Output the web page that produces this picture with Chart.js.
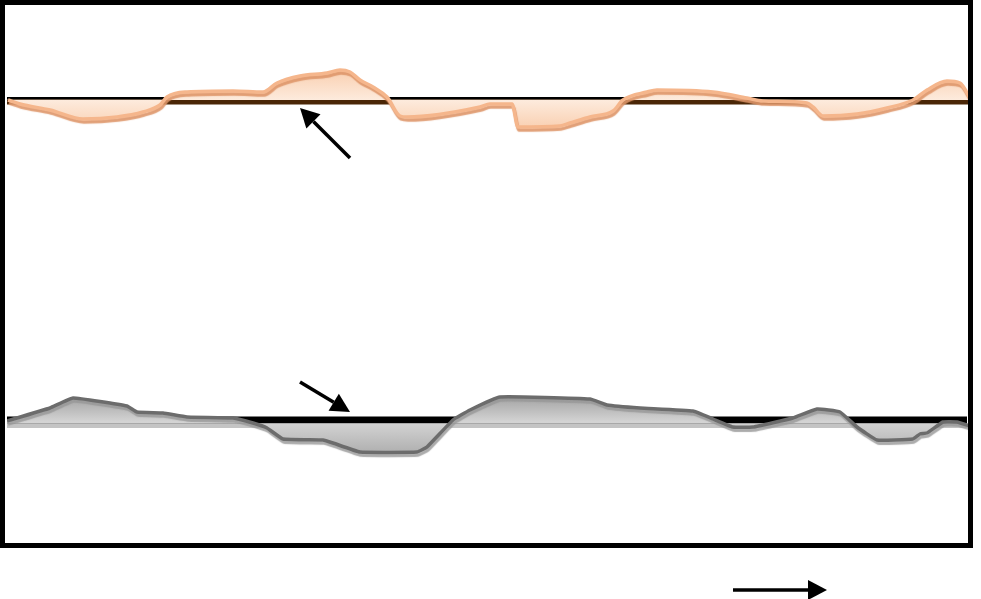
<!DOCTYPE html>
<html>
<head>
<meta charset="utf-8">
<script src="https://cdn.jsdelivr.net/npm/chart.js@4/dist/chart.umd.min.js"></script>
<style>
html,body{margin:0;padding:0;background:#fff;}
#wrap{width:981px;height:599px;position:relative;}
</style>
</head>
<body>
<div id="wrap"><canvas id="c" width="981" height="599"></canvas></div>
<script>
// Position along the record (arbitrary units) and deviation from the baseline
const orangePos = [1,13,43,76,110,136,153,160,180,226,256,270,293,320,333,343,353,366,380,393,400,473,483,505,511,553,563,583,606,616,640,650,706,740,756,800,806,816,850,880,906,920,940,953,963];
const orangeVal = [0,-4,-10,-19,-17,-12,-5,3,8,9,8,17,24,27,30,28,20,13,3,-16,-17,-7,-4,-4,-27,-26,-23,-17,-11,0,8,10,8,2,-1,-3,-7,-16,-14,-8,0,10,19,17,2];

const grayPos = [0,43,66,120,130,156,180,226,246,260,276,316,326,353,410,420,446,463,493,583,600,633,686,706,726,746,786,810,833,850,870,906,913,920,936,950,963];
const grayVal = [0,13,23,15,9,8,4,3,-2,-7,-18,-19,-22,-31,-31,-26,1,11,24,22,16,13,10,2,-6,-6,3,12,9,-6,-19,-18,-13,-12,-1,-1,-5];

// Annotation arrows: [x1, y1, x2, y2] in data units (tail -> head)
const arrowOrange = [343, -58, 293, -8];
const arrowGray = [293, 39, 343, 9];
const arrowTime = [726, -169, 820, -169];

const orangeData = orangePos.map((x,i)=>({x:x,y:orangeVal[i]}));
const grayData = grayPos.map((x,i)=>({x:x,y:grayVal[i]}));

function drawArrow(ctx, x1, y1, x2, y2){
  const ang = Math.atan2(y2-y1, x2-x1);
  const hl = 19, hw = 10;
  const bx = x2 - hl*Math.cos(ang), by = y2 - hl*Math.sin(ang);
  ctx.save();
  ctx.strokeStyle = '#000';
  ctx.fillStyle = '#000';
  ctx.lineWidth = 3.5;
  ctx.beginPath();
  ctx.moveTo(x1,y1);
  ctx.lineTo(bx,by);
  ctx.stroke();
  ctx.beginPath();
  ctx.moveTo(x2,y2);
  ctx.lineTo(bx + hw*Math.sin(ang), by - hw*Math.cos(ang));
  ctx.lineTo(bx - hw*Math.sin(ang), by + hw*Math.cos(ang));
  ctx.closePath();
  ctx.fill();
  ctx.restore();
}

function vGrad(ctx, scale, stops){
  const p0 = scale.getPixelForValue(stops[0][0]);
  const p1 = scale.getPixelForValue(stops[stops.length-1][0]);
  const g = ctx.createLinearGradient(0, p0, 0, p1);
  stops.forEach(s=>{ g.addColorStop((scale.getPixelForValue(s[0])-p0)/(p1-p0), s[1]); });
  return g;
}

const decor = {
  id:'decor',
  beforeDraw(chart){
    const ctx = chart.ctx;
    const xs = chart.scales.x, ya = chart.scales.yA, yb = chart.scales.yB;
    const x0 = xs.getPixelForValue(0), xe = xs.getPixelForValue(964), x1 = xs.getPixelForValue(960);
    // orange baseline: black rule and brown band
    const pa = ya.getPixelForValue(0);
    ctx.save();
    ctx.fillStyle = '#000';
    ctx.fillRect(x0, pa-3, xe-x0, 2.5);
    ctx.fillStyle = '#4a2606';
    ctx.fillRect(x0, pa-0.5, xe-x0, 5);
    // gray baseline: light shadow and thick black band
    const pb = yb.getPixelForValue(0);
    ctx.fillStyle = '#c4c4c4';
    ctx.fillRect(x0, pb+3, xe-x0, 4);
    ctx.fillStyle = '#000';
    ctx.fillRect(x0, pb-4.5, x1-x0, 7);
    ctx.restore();
  },
  beforeDatasetDraw(chart, args){
    const ctx = chart.ctx;
    ctx.save();
    if(args.index===0){
      ctx.shadowColor = 'rgba(222,150,105,0.9)';
    } else {
      ctx.shadowColor = 'rgba(150,150,150,0.8)';
    }
    ctx.shadowOffsetX = 1;
    ctx.shadowOffsetY = 3;
    ctx.shadowBlur = 1;
  },
  afterDatasetDraw(chart){
    chart.ctx.restore();
  },
  afterDraw(chart){
    const ctx = chart.ctx;
    const xs = chart.scales.x, ya = chart.scales.yA, yb = chart.scales.yB;
    drawArrow(ctx, xs.getPixelForValue(arrowOrange[0]), ya.getPixelForValue(arrowOrange[1]), xs.getPixelForValue(arrowOrange[2]), ya.getPixelForValue(arrowOrange[3]));
    drawArrow(ctx, xs.getPixelForValue(arrowGray[0]), yb.getPixelForValue(arrowGray[1]), xs.getPixelForValue(arrowGray[2]), yb.getPixelForValue(arrowGray[3]));
    drawArrow(ctx, xs.getPixelForValue(arrowTime[0]), yb.getPixelForValue(arrowTime[1]), xs.getPixelForValue(arrowTime[2]), yb.getPixelForValue(arrowTime[3]));
    // frame
    const ca = chart.chartArea;
    ctx.save();
    ctx.strokeStyle = '#000';
    ctx.lineWidth = 5;
    ctx.strokeRect(ca.left-4.5, ca.top-2.5, ca.right-ca.left+4, ca.bottom-ca.top+2);
    ctx.restore();
  }
};

new Chart(document.getElementById('c'), {
  type:'line',
  data:{
    datasets:[
      {
        data: orangeData,
        yAxisID:'yA',
        borderColor:'#f5b68c',
        borderWidth:3.5,
        backgroundColor:function(c){
          const ch = c.chart;
          if(!ch.chartArea) return '#fce1cd';
          return vGrad(ch.ctx, ch.scales.yA, [[32,'#f9cdad'],[0,'#fdebdd'],[-28,'#f9d0b2']]);
        },
        fill:{value:0},
        pointRadius:0,
        tension:0.25,
        cubicInterpolationMode:'monotone'
      },
      {
        data: grayData,
        yAxisID:'yB',
        borderColor:'#6c6c6c',
        borderWidth:3.5,
        backgroundColor:function(c){
          const ch = c.chart;
          if(!ch.chartArea) return '#c2c2c2';
          return vGrad(ch.ctx, ch.scales.yB, [[25,'#a2a2a2'],[-1,'#d4d4d4'],[-33,'#aeaeae']]);
        },
        fill:{value:-2.5},
        pointRadius:0,
        tension:0.1
      }
    ]
  },
  options:{
    responsive:false,
    animation:false,
    events:[],
    layout:{padding:{left:7,right:10,top:5,bottom:53}},
    plugins:{legend:{display:false},tooltip:{enabled:false},filler:{drawTime:'beforeDatasetsDraw'}},
    scales:{
      x:{type:'linear',min:0,max:964,display:false},
      yA:{type:'linear',min:-446,max:95,display:false},
      yB:{type:'linear',min:-125,max:416,display:false}
    }
  },
  plugins:[decor]
});
</script>
</body>
</html>
